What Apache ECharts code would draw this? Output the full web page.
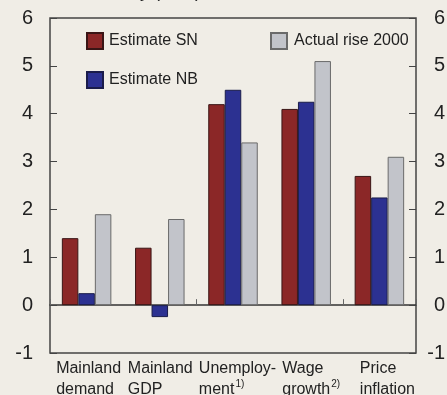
<!DOCTYPE html>
<html>
<head>
<meta charset="utf-8">
<script src="https://cdn.jsdelivr.net/npm/echarts@6/dist/echarts.min.js"></script>
<style>
  html, body { margin: 0; padding: 0; background: #f0ede6; }
  #chart { width: 447px; height: 395px; }
</style>
</head>
<body>
<div id="chart"></div>
<script>
// Categories (two-line labels) and their footnote markers
const categories = ['Mainland\ndemand', 'Mainland\nGDP', 'Unemploy-\nment', 'Wage\ngrowth', 'Price\ninflation'];
const footnotes = ['', '', '1)', '2)', ''];

// Series
const seriesNames = ['Estimate SN', 'Estimate NB', 'Actual rise 2000'];
const estimateSN = [1.4, 1.2, 4.2, 4.1, 2.7];
const estimateNB = [0.25, -0.25, 4.5, 4.25, 2.25];
const actualRise = [1.9, 1.8, 3.4, 5.1, 3.1];

// Value axis
const yMin = -1;
const yMax = 6;
const yStep = 1;

const FONT = '"Liberation Sans", Arial, Helvetica, sans-serif';
const TEXT = '#222';

// horizontal nudge of each category label block
const labelIndent = [4, 1, 9, 10, 16];

const rich = {
  sup: { align: 'left', fontSize: 10, lineHeight: 2, padding: [0, 0, 0, 1], verticalAlign: 'top', color: TEXT, fontFamily: FONT }
};
labelIndent.forEach((p, i) => {
  rich['c' + i] = { align: 'left', fontSize: 16, lineHeight: 21, padding: [0, 0, 0, p], color: TEXT, fontFamily: FONT };
});

function categoryLabel(value, index) {
  const lines = value.split('\n');
  return lines.map((line, k) => {
    let s = '{c' + index + '|' + line + '}';
    if (k === lines.length - 1 && footnotes[index]) s += '{sup|' + footnotes[index] + '}';
    return s;
  }).join('\n');
}

const valueAxis = (pos, align, margin) => ({
  type: 'value',
  position: pos,
  min: yMin,
  max: yMax,
  interval: yStep,
  splitLine: { show: false },
  axisLine: { show: false },
  axisTick: { show: true, inside: true, length: 7, lineStyle: { color: '#444', width: 1 } },
  axisLabel: { fontSize: 20, color: TEXT, fontFamily: FONT, align: align, margin: margin }
});

const barStyle = (fill, border) => ({ color: fill, borderColor: border, borderWidth: 1 });

const legendText = { fontSize: 16, lineHeight: 18, color: TEXT, fontFamily: FONT, padding: [0, 0, 0, 1] };

const chart = echarts.init(document.getElementById('chart'), null, { renderer: 'canvas' });
chart.setOption({
  animation: false,
  backgroundColor: '#f0ede6',
  textStyle: { fontFamily: FONT },
  title: {
    text: 'Mainland economy (in %)',
    left: -2,
    top: -17,
    padding: 0,
    textStyle: { fontSize: 18, fontWeight: 'normal', color: TEXT, fontFamily: FONT }
  },
  grid: {
    left: 50, right: 31, top: 18, bottom: 42,
    containLabel: false,
    outerBoundsMode: 'none',
    show: true, borderColor: '#444', borderWidth: 1.5, backgroundColor: 'transparent'
  },
  legend: [
    {
      data: [seriesNames[0], seriesNames[1]],
      orient: 'vertical', left: 86, top: 32, padding: 0,
      itemWidth: 16, itemHeight: 16, itemGap: 21, icon: 'rect',
      selectedMode: false,
      textStyle: legendText
    },
    {
      data: [seriesNames[2]],
      left: 270, top: 32, padding: 0,
      itemWidth: 16, itemHeight: 16, icon: 'rect',
      selectedMode: false,
      textStyle: Object.assign({}, legendText, { padding: [0, 0, 0, 2] })
    }
  ],
  xAxis: [
    {
      type: 'category',
      data: categories,
      axisLine: { onZero: true, lineStyle: { color: '#333', width: 1.5 } },
      axisTick: { show: true, inside: true, length: 6, lineStyle: { color: '#666', width: 1 } },
      axisLabel: { show: false }
    },
    {
      type: 'category',
      data: categories,
      position: 'bottom',
      axisLine: { show: false, onZero: false },
      axisTick: { show: false },
      axisLabel: { interval: 0, margin: 5, formatter: categoryLabel, rich: rich }
    }
  ],
  yAxis: [
    valueAxis('left', 'right', 17),
    valueAxis('right', 'right', 29)
  ],
  series: [
    { name: seriesNames[0], type: 'bar', data: estimateSN, barWidth: 16.5, barGap: '0%', itemStyle: barStyle('#8b2727', '#3a1515') },
    { name: seriesNames[1], type: 'bar', data: estimateNB, barWidth: 16.5, barGap: '0%', itemStyle: barStyle('#2c3191', '#1a1c4a') },
    { name: seriesNames[2], type: 'bar', data: actualRise, barWidth: 16.5, barGap: '0%', itemStyle: barStyle('#c2c4ca', '#6a6a6a') }
  ]
});
</script>
</body>
</html>
